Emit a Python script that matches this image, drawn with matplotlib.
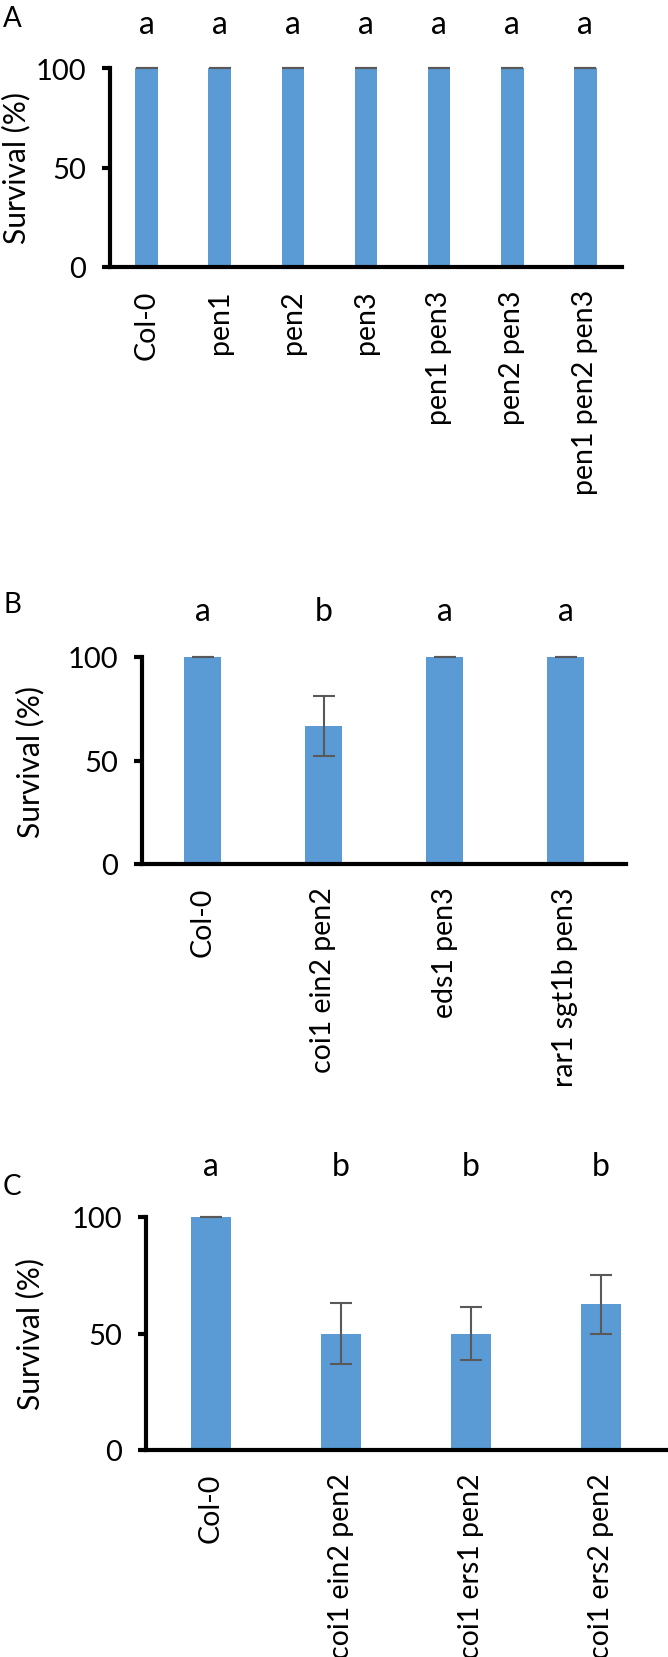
import numpy as np
import matplotlib
matplotlib.use('Agg')
import matplotlib.pyplot as plt
import matplotlib.transforms as mtransforms

plt.rcParams['font.family'] = ['Lato', 'DejaVu Sans']

# panel A
labels_a = ['Col-0', 'pen1', 'pen2', 'pen3', 'pen1 pen3', 'pen2 pen3', 'pen1 pen2 pen3']
surv_a = [100, 100, 100, 100, 100, 100, 100]
err_a = [0, 0, 0, 0, 0, 0, 0]
letters_a = ['a', 'a', 'a', 'a', 'a', 'a', 'a']

# panel B
labels_b = ['Col-0', 'coi1 ein2 pen2', 'eds1 pen3', 'rar1 sgt1b pen3']
surv_b = [100, 66.7, 100, 100]
err_b = [0, 14.3, 0, 0]
letters_b = ['a', 'b', 'a', 'a']

# panel C
labels_c = ['Col-0', 'coi1 ein2 pen2', 'coi1 ers1 pen2', 'coi1 ers2 pen2']
surv_c = [100, 50, 50, 62.5]
err_c = [0, 12.9, 11.5, 12.5]
letters_c = ['a', 'b', 'b', 'b']

W, H = 668, 1658
fig = plt.figure(figsize=(W / 100, H / 100), dpi=100)

BAR = '#5B9BD5'
ERR = '#595959'


def px_axes(left, right, top, bottom):
    return fig.add_axes([left / W, 1 - bottom / H, (right - left) / W, (bottom - top) / H])


def panel(ax, labels, vals, errs, letters, tag, tag_y, ylab_x):
    x = np.arange(len(labels))
    ax.bar(x, vals, width=0.31, color=BAR, zorder=2)
    eb = ax.errorbar(x, vals, yerr=errs, fmt='none', ecolor=ERR, elinewidth=1.5,
                     capsize=8, capthick=1.5, zorder=3)
    for art in eb.get_children():
        art.set_clip_on(False)
    ax.set_xlim(-0.5, len(labels) - 0.5)
    ax.set_ylim(0, 100)
    ax.set_yticks([0, 50, 100])
    ax.set_xticks(x)
    ax.set_xticklabels(labels, rotation=90, fontsize=20.5)
    ax.tick_params(axis='x', length=0, pad=16)
    ax.tick_params(axis='y', length=6, width=3, pad=11, labelsize=21)
    for s in ['top', 'right']:
        ax.spines[s].set_visible(False)
    for s in ['left', 'bottom']:
        ax.spines[s].set_linewidth(3)
        ax.spines[s].set_zorder(4)

    trans = mtransforms.blended_transform_factory(ax.transData, ax.transAxes)
    for i, l in enumerate(letters):
        ax.text(i, 1.22, l, ha='center', va='center', fontsize=23, transform=trans)

    fig.text(3 / W, 1 - tag_y / H, tag, ha='left', va='center', fontsize=20)
    bb = ax.get_position()
    fig.text(ylab_x / W, (bb.y0 + bb.y1) / 2, 'Survival (%)', rotation=90,
             ha='center', va='center', fontsize=21.5)


ax_a = px_axes(110, 622, 69, 268)
panel(ax_a, labels_a, surv_a, err_a, letters_a, 'A', 19, 16)

ax_b = px_axes(142, 626, 658, 865)
panel(ax_b, labels_b, surv_b, err_b, letters_b, 'B', 605, 30)

ax_c = px_axes(146, 666, 1218, 1451)
panel(ax_c, labels_c, surv_c, err_c, letters_c, 'C', 1187, 30)

fig.savefig('out.png', dpi=100)
